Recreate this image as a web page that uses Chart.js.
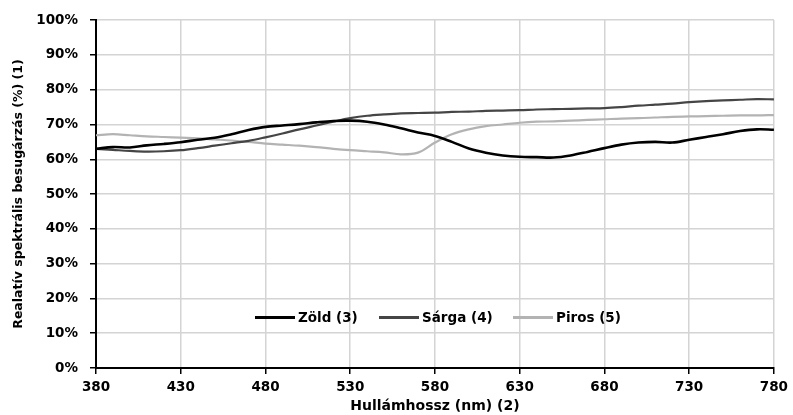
<!DOCTYPE html>
<html lang="en">
<head>
  <meta charset="UTF-8" />
  <title>Relatív spektrális besugárzás</title>
  <script src="https://cdn.jsdelivr.net/npm/chart.js"></script>
  <style>
    html, body { margin: 0; padding: 0; background: #fff; }
    #wrap { position: relative; width: 793px; height: 415px; }
    #legend {
      position: absolute; top: 308px; left: 0; width: 793px; height: 18px;
      font: bold 13.5px "DejaVu Sans", sans-serif; color: #000;
    }
    .item { position: absolute; top: 0; display: flex; align-items: center; height: 18px; }
    .swatch { display: inline-block; width: 40px; margin-right: 3px; }
  </style>
</head>
<body>
  <div id="wrap">
    <canvas id="spectrum" width="793" height="415"></canvas>
    <div id="legend"></div>
  </div>

  <script>
    const wavelengths = [380, 390, 400, 410, 420, 430, 440, 450, 460, 470, 480, 490, 500, 510, 520, 530, 540, 550, 560, 570,
      580, 590, 600, 610, 620, 630, 640, 650, 660, 670, 680, 690, 700, 710, 720, 730, 740, 750, 760, 770, 780];
    const zold = [63.0, 63.5, 63.4, 64.0, 64.4, 64.9, 65.6, 66.2, 67.2, 68.4, 69.3, 69.7, 70.1, 70.6, 71.0, 71.1, 70.8, 70.0, 68.9, 67.7,
      66.7, 65.0, 63.1, 61.9, 61.1, 60.7, 60.6, 60.5, 61.1, 62.1, 63.2, 64.2, 64.8, 65.0, 64.8, 65.6, 66.4, 67.2, 68.1, 68.6, 68.5];
    const sarga = [63.0, 62.7, 62.4, 62.2, 62.3, 62.6, 63.2, 63.9, 64.6, 65.3, 66.3, 67.4, 68.6, 69.7, 70.8, 71.8, 72.5, 72.9, 73.2, 73.3,
      73.4, 73.6, 73.7, 73.9, 74.0, 74.1, 74.3, 74.4, 74.5, 74.6, 74.7, 75.0, 75.4, 75.7, 76.0, 76.4, 76.7, 76.9, 77.1, 77.3, 77.2];
    const piros = [66.9, 67.2, 66.9, 66.6, 66.4, 66.2, 66.0, 65.7, 65.4, 65.0, 64.5, 64.2, 63.9, 63.5, 63.0, 62.6, 62.3, 62.0, 61.4, 61.9,
      64.8, 67.2, 68.6, 69.5, 70.0, 70.5, 70.8, 70.9, 71.1, 71.3, 71.5, 71.7, 71.8, 72.0, 72.2, 72.3, 72.4, 72.5, 72.6, 72.6, 72.7];
    const seriesNames = ["Zöld (3)", "Sárga (4)", "Piros (5)"];
    const yTicks = [0, 10, 20, 30, 40, 50, 60, 70, 80, 90, 100];

    const colors = ["#000000", "#454545", "#b3b3b3"];
    const widths = [2.6, 2.2, 2.2];
    const legendPos = [255, 379, 513];

    const toPoints = (vals) => vals.map((v, i) => ({ x: wavelengths[i], y: v }));

    const tickFont = { family: "DejaVu Sans", size: 13.5, weight: "bold" };

    var ctx = document.getElementById("spectrum").getContext("2d");
    var chart = new Chart(ctx, {
      type: "line",
      data: {
        datasets: [zold, sarga, piros].map((vals, i) => ({
          label: seriesNames[i],
          data: toPoints(vals),
          borderColor: colors[i],
          backgroundColor: colors[i],
          borderWidth: widths[i],
          pointRadius: 0,
          tension: 0.35,
          fill: false,
        })),
      },
      options: {
        responsive: false,
        animation: false,
        layout: { padding: { top: 17, right: 17, left: 0, bottom: 0 } },
        plugins: {
          legend: { display: false },
          tooltip: { enabled: false },
        },
        scales: {
          x: {
            type: "linear",
            min: 380,
            max: 780,
            afterFit: (s) => { s.height = 47; },
            ticks: { stepSize: 50, color: "#000", font: tickFont, padding: 5 },
            grid: { color: "#d4d4d4", lineWidth: 1.5, tickColor: "#000", tickLength: 6 },
            border: { color: "#000", width: 2 },
            title: {
              display: true,
              text: "Hullámhossz (nm) (2)",
              color: "#000",
              font: { family: "DejaVu Sans", size: 14, weight: "bold" },
              padding: { top: 0, bottom: 0 },
            },
          },
          y: {
            min: 0,
            max: 100,
            afterFit: (s) => { s.width = 96; },
            afterBuildTicks: (s) => { s.ticks = yTicks.map((v) => ({ value: v })); },
            ticks: { color: "#000", font: tickFont, padding: 12, callback: (v) => v + "%" },
            grid: { color: "#d4d4d4", lineWidth: 1.5, tickColor: "#000", tickLength: 6 },
            border: { color: "#000", width: 2 },
            title: {
              display: true,
              text: "Realatív spektrális besugárzás (%) (1)",
              color: "#000",
              font: { family: "DejaVu Sans", size: 12.5, weight: "bold" },
              padding: { top: 11, bottom: 0 },
            },
          },
        },
      },
    });

    const legendBox = document.getElementById("legend");
    seriesNames.forEach((name, i) => {
      const item = document.createElement("div");
      item.className = "item";
      item.style.left = legendPos[i] + "px";
      item.innerHTML = `<span class="swatch" style="border-top: 3px solid ${colors[i]};"></span><span>${name}</span>`;
      legendBox.appendChild(item);
    });
  </script>
</body>
</html>
